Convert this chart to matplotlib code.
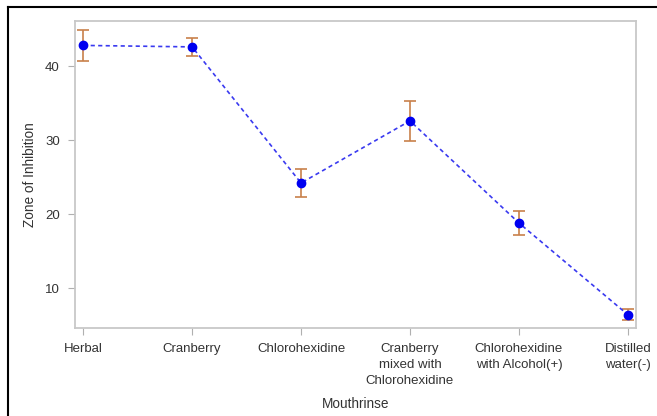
import matplotlib
matplotlib.use("Agg")
import matplotlib.pyplot as plt
from matplotlib.lines import Line2D

# mean zone of inhibition per mouthrinse, with half-width of the error bar
rinses = ["Herbal", "Cranberry", "Chlorohexidine",
          "Cranberry\nmixed with\nChlorohexidine",
          "Chlorohexidine\nwith Alcohol(+)", "Distilled\nwater(-)"]
means = [42.8, 42.6, 24.2, 32.6, 18.8, 6.4]
errs = [2.1, 1.25, 1.95, 2.7, 1.6, 0.75]

plt.rcParams['font.family'] = ['Liberation Sans', 'DejaVu Sans']

fig = plt.figure(figsize=(6.57, 4.16), dpi=100)
W, H = 657, 416
ax = fig.add_axes([75 / W, 1 - 328 / H, (636 - 75) / W, (328 - 21) / H])

x = list(range(len(rinses)))
ax.errorbar(x, means, yerr=errs, fmt='none', ecolor='#c8804a',
            elinewidth=1.2, capsize=4, capthick=1.2, zorder=2)
ax.plot(x, means, color='#3a3af0', linestyle=(0, (2.5, 2)), linewidth=1.2, zorder=3)
ax.plot(x, means, 'o', color='#0000f0', markersize=6, zorder=4)

ax.set_xlim(-0.075, 5.075)
ax.set_ylim(4.6, 46.1)
ax.set_xticks(x)
ax.set_xticklabels(rinses, fontsize=9.5, color='#333333', linespacing=1.45)
ax.set_yticks([10, 20, 30, 40])
ax.tick_params(axis='y', labelsize=9.5, colors='#333333', length=5, color='#b0b0b0', pad=6)
ax.tick_params(axis='x', length=5, color='#b0b0b0', pad=6)
for s in ax.spines.values():
    s.set_color('#c8c8c8')
    s.set_linewidth(1.3)

ax.set_ylabel("Zone of Inhibition", fontsize=9.8, color='#333333', labelpad=6)
ax.set_xlabel("Mouthrinse", fontsize=9.8, color='#333333', labelpad=7)

# black frame edges along the top and left
fig.add_artist(Line2D([8 / W, 8 / W], [0, 1 - 7 / H], color='black', linewidth=1.5))
fig.add_artist(Line2D([8 / W, 1], [1 - 7 / H, 1 - 7 / H], color='black', linewidth=1.5))

fig.savefig("out.png", dpi=100)
